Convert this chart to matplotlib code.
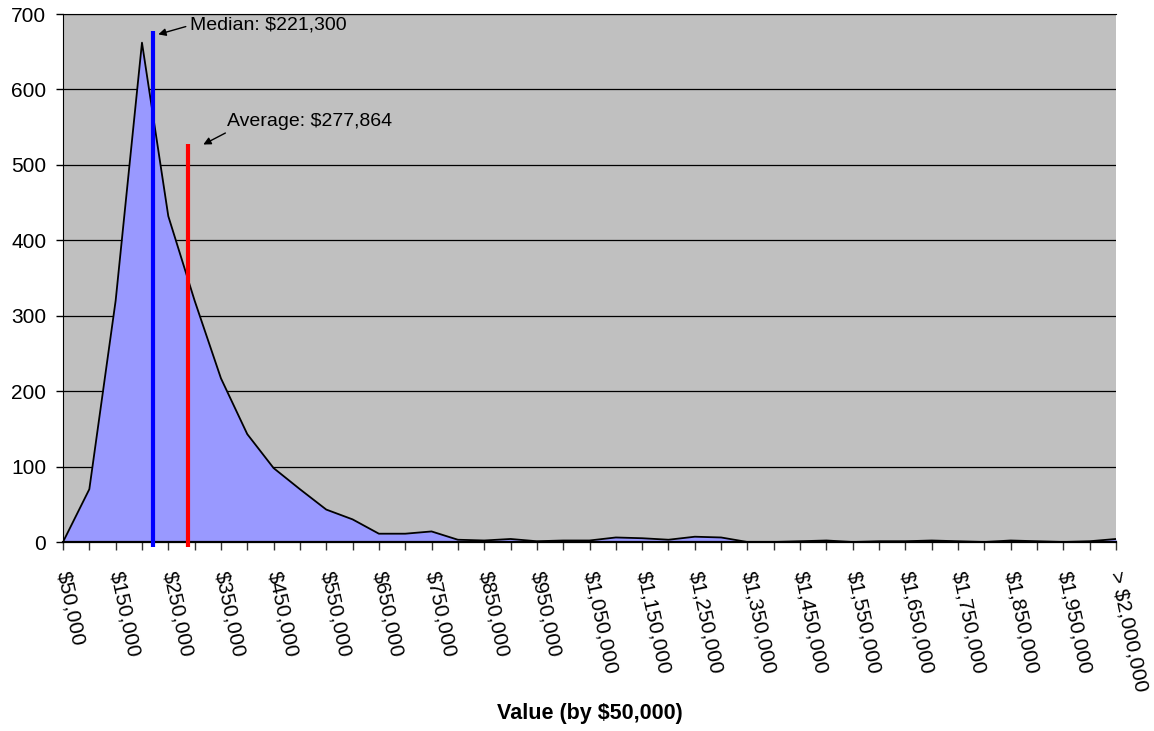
import matplotlib
matplotlib.use("Agg")
import matplotlib.pyplot as plt
from matplotlib import font_manager

# home counts per $50,000 value bucket
bin_edges = list(range(50000, 2000001, 50000))
bin_labels = ["${:,}".format(v) for v in bin_edges] + ["> $2,000,000"]
counts = [0, 70, 320, 662, 432, 320, 217, 143, 98, 70,
          43, 30, 11, 11, 14, 3, 2, 4, 1, 2,
          2, 6, 5, 3, 7, 6, 0, 0, 1, 2,
          0, 1, 1, 2, 1, 0, 2, 1, 0, 1, 4]

median_label = "Median: $221,300"
average_label = "Average: $277,864"
# where the marker lines sit, in category units, and how tall they are
median_pos, median_top = 3.42, 677
average_pos, average_top = 4.75, 528

installed = {f.name for f in font_manager.fontManager.ttflist}
plt.rcParams["font.family"] = ["Liberation Sans", "DejaVu Sans"]
if "Liberation Sans Narrow" in installed:
    note_font = dict(family=["Liberation Sans Narrow", "Liberation Sans"], fontsize=16)
else:
    note_font = dict(family=["Liberation Sans", "DejaVu Sans"], fontsize=14)

fig = plt.figure(figsize=(11.54, 7.31), dpi=100)
ax = fig.add_axes([63 / 1154, 1 - 542 / 731, (1116 - 63) / 1154, (542 - 14) / 731])
ax.set_facecolor("#C0C0C0")

x = list(range(len(counts)))
ax.fill_between(x, counts, 0, color="#9999FF", lw=0, zorder=2)
ax.plot(x, counts, color="black", lw=1.3, zorder=3)

ax.set_xlim(0, len(counts) - 1)
ax.set_ylim(0, 700)
ax.set_yticks(range(0, 701, 100))
ax.set_axisbelow(True)
ax.yaxis.grid(True, color="black", lw=0.9)

ax.set_xticks(x)
ax.set_xticklabels([lab if i % 2 == 0 else "" for i, lab in enumerate(bin_labels)],
                   rotation=-78, ha="left", va="center", rotation_mode="anchor",
                   fontsize=15)
ax.tick_params(axis="x", direction="out", length=6, width=1, color="#333333", pad=15)
ax.tick_params(axis="y", direction="out", length=5, width=1, labelsize=15, pad=7)

for side in ["left", "bottom", "top"]:
    ax.spines[side].set_color("black")
ax.spines["bottom"].set_linewidth(1.6)
ax.spines["right"].set_visible(False)

ax.set_xlabel("Value (by $50,000)", fontsize=15.5, fontweight="bold", va="center")
ax.xaxis.set_label_coords(0.5, -(714 - 542) / 528)

# median / average markers
ax.plot([median_pos, median_pos], [-7, median_top], color="#0000FF", lw=3,
        solid_capstyle="butt", clip_on=False, zorder=4)
ax.plot([average_pos, average_pos], [-7, average_top], color="#FF0000", lw=3,
        solid_capstyle="butt", clip_on=False, zorder=4)

arrow = dict(arrowstyle="-|>", color="black", lw=1, shrinkA=1, shrinkB=0,
             mutation_scale=11)
ax.annotate(median_label, xy=(3.62, 673), xytext=(4.82, 686), ha="left", va="center",
            arrowprops=dict(arrow, relpos=(0, 0.45)), **note_font)
ax.annotate(average_label, xy=(5.33, 527), xytext=(6.23, 558), ha="left", va="center",
            arrowprops=dict(arrow, relpos=(0.03, 0.0)), **note_font)

fig.savefig("out.png", dpi=100)
